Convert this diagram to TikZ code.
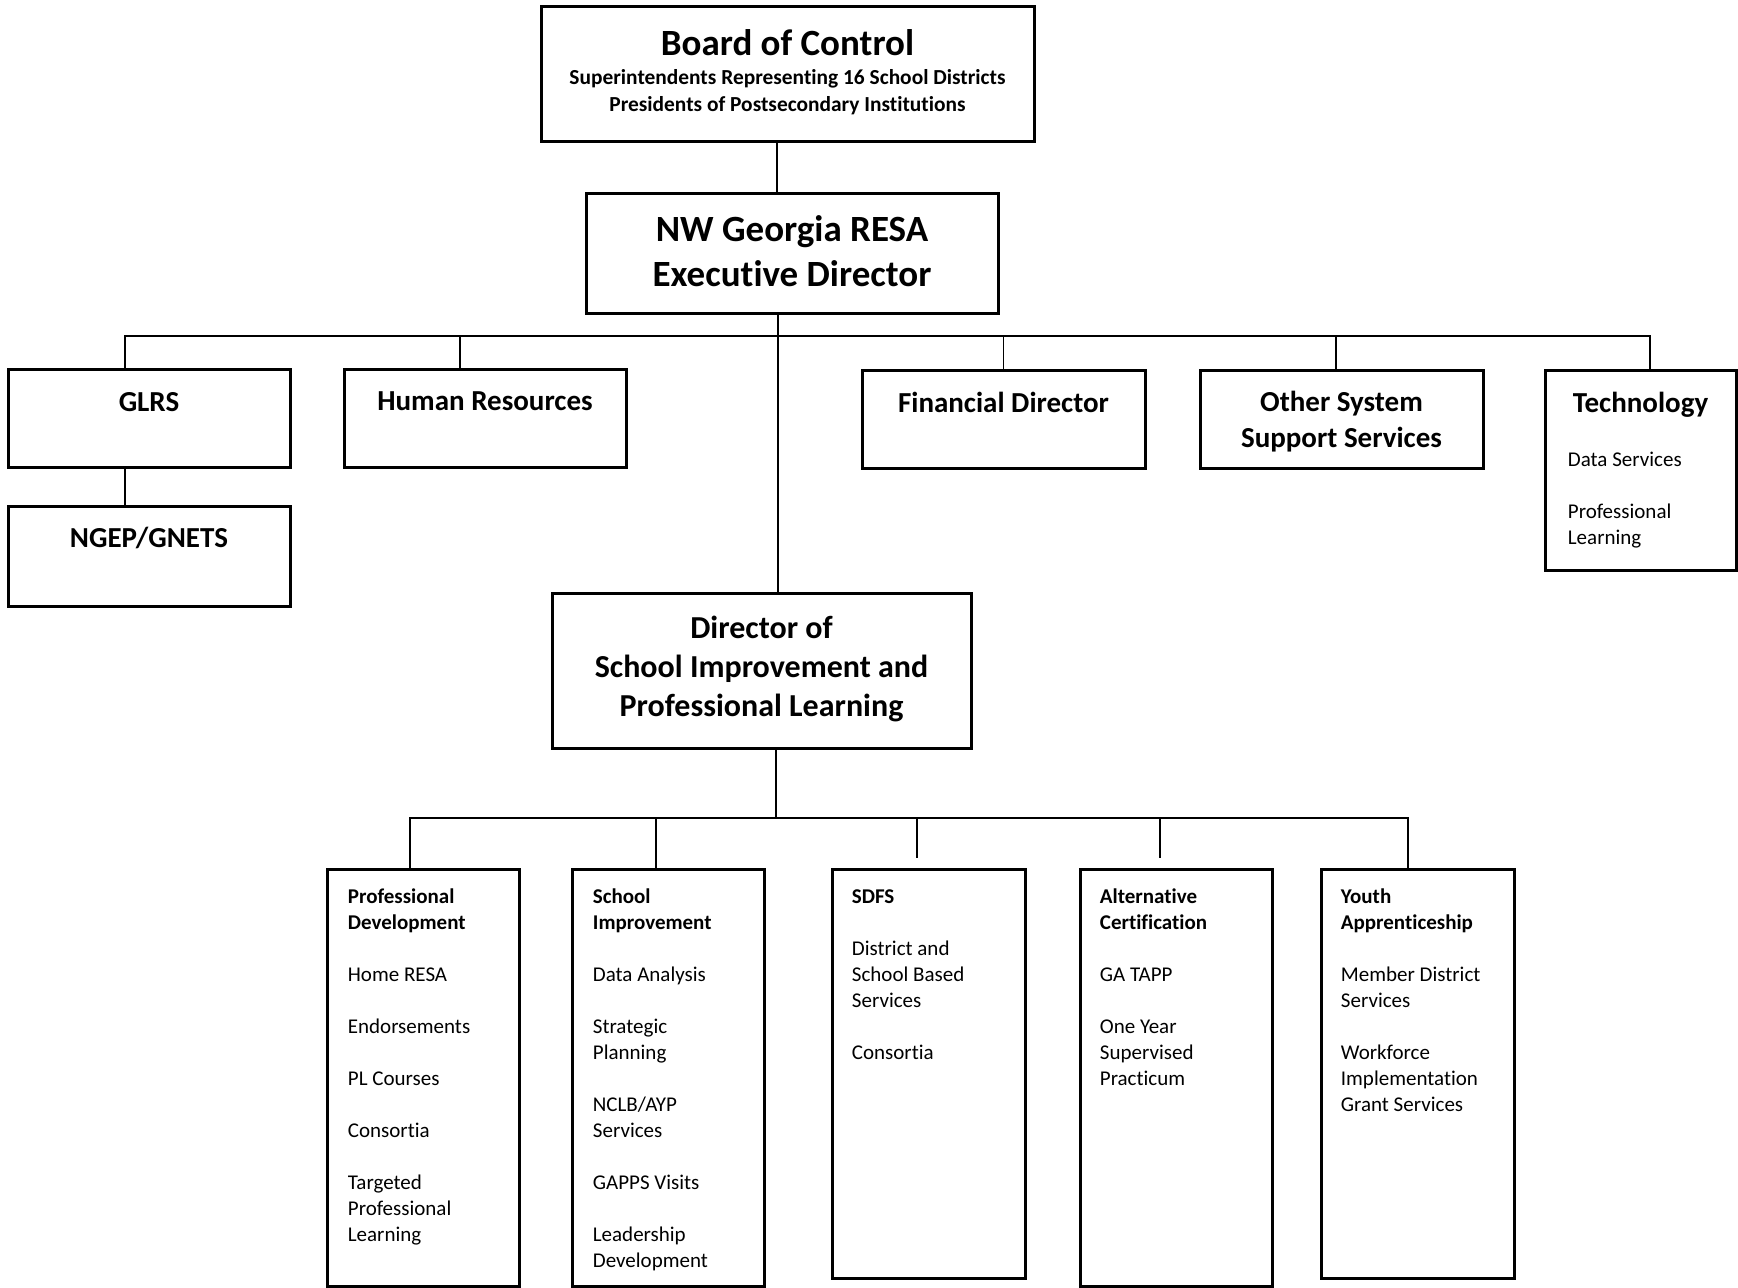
\documentclass[tikz,border=0pt]{standalone}
\usepackage{fontspec}
\setmainfont{Carlito}[Ligatures=NoCommon]

\begin{document}
\begin{tikzpicture}[x=0.5pt, y=-0.5pt,
      box/.style={draw, line width=1.5pt, inner sep=0pt},
      ttl/.style={font=\fontsize{14.5}{18}\selectfont\bfseries,
                  inner sep=0pt, anchor=base},
      lst/.style={font=\fontsize{10.5}{13}\selectfont, align=left,
                  inner sep=0pt, anchor=north west},
      conn/.style={line width=0.8pt}
  ]
    \useasboundingbox (0,0) rectangle (1738,1287);

    % top of the chart
    \node[box, minimum width=246.5pt, minimum height=67.5pt] (board) at (787.5,73.5) {};
    \node[font=\fontsize{18.5}{22}\selectfont\bfseries, inner sep=0pt, anchor=base]
      (boardt) at ([yshift=-25.4pt]board.north) {Board of Control};
    \node[font=\fontsize{10.7}{13.5}\selectfont\bfseries, align=center, inner sep=0pt, anchor=north]
      (boards) at ([yshift=-32.2pt]board.north)
      {Superintendents Representing 16 School Districts\\Presidents of Postsecondary Institutions};

    \node[box, minimum width=206pt, minimum height=60pt] (exec) at (792,253) {};
    \node[font=\fontsize{18.5}{22.5}\selectfont\bfseries, align=center, inner sep=0pt, anchor=north]
      (exect) at ([yshift=-11.6pt]exec.north) {NW Georgia RESA\\Executive Director};

    % second row
    \node[box, minimum width=141pt, minimum height=49pt] (glrs) at (149,418) {};
    \node[ttl] (glrst) at ([yshift=-22pt]glrs.north) {GLRS};
    \node[box, minimum width=141pt, minimum height=50pt] (ngep) at (149,556) {};
    \node[ttl] (ngept) at ([yshift=-21.3pt]ngep.north) {NGEP/GNETS};
    \node[box, minimum width=141pt, minimum height=49pt] (hr) at (485,418) {};
    \node[ttl] (hrt) at ([yshift=-21.7pt]hr.north) {Human Resources};
    \node[box, minimum width=141.5pt, minimum height=49pt] (fin) at (1003.5,419) {};
    \node[ttl] (fint) at ([yshift=-22pt]fin.north) {Financial Director};
    \node[box, minimum width=141.5pt, minimum height=49pt] (oss) at (1341.5,419) {};
    \node[ttl, align=center, anchor=north] (osst) at ([yshift=-11pt]oss.north)
      {Other System\\Support Services};
    \node[box, minimum width=95.5pt, minimum height=100pt] (tech) at (1640.5,470) {};
    \node[ttl] (techt) at ([yshift=-22pt]tech.north) {Technology};
    \node[lst] (techl) at ([shift={(12pt,-41.4pt)}]tech.north west)
      {Data Services\\[13.2pt]Professional\\Learning};

    \node[box, minimum width=209.5pt, minimum height=77.5pt] (dir) at (761.5,670.5) {};
    \node[font=\fontsize{16}{19.5}\selectfont\bfseries, align=center, inner sep=0pt, anchor=north]
      (dirt) at ([yshift=-11.9pt]dir.north)
      {Director of\\School Improvement and\\Professional Learning};

    % bottom row
    \node[box, minimum width=96pt, minimum height=208.5pt] (pd) at (423,1077.5) {};
    \node[lst] (pdt) at ([shift={(11pt,-10.2pt)}]pd.north west)
      {\textbf{Professional}\\\textbf{Development}\\[13pt]Home RESA\\[13pt]Endorsements\\[13pt]%
       PL Courses\\[13pt]Consortia\\[13pt]Targeted\\Professional\\Learning};
    \node[box, minimum width=96pt, minimum height=208.5pt] (si) at (668,1077.5) {};
    \node[lst] (sit) at ([shift={(11pt,-10.2pt)}]si.north west)
      {\textbf{School}\\\textbf{Improvement}\\[13pt]Data Analysis\\[13pt]Strategic\\Planning\\[13pt]%
       NCLB/AYP\\Services\\[13pt]GAPPS Visits\\[13pt]Leadership\\Development};
    \node[box, minimum width=96.5pt, minimum height=204.5pt] (sdfs) at (928.5,1073.5) {};
    \node[lst] (sdfst) at ([shift={(10.5pt,-10.7pt)}]sdfs.north west)
      {\textbf{SDFS}\\[13pt]District and\\School Based\\Services\\[13pt]Consortia};
    \node[box, minimum width=96pt, minimum height=208.5pt] (ac) at (1176,1077.5) {};
    \node[lst] (act) at ([shift={(10.5pt,-10.2pt)}]ac.north west)
      {\textbf{Alternative}\\\textbf{Certification}\\[13pt]GA TAPP\\[13pt]One Year\\Supervised\\Practicum};
    \node[box, minimum width=96.5pt, minimum height=204.5pt] (ya) at (1417.5,1073.5) {};
    \node[lst] (yat) at ([shift={(10.5pt,-10.2pt)}]ya.north west)
      {\textbf{Youth}\\\textbf{Apprenticeship}\\[13pt]Member District\\Services\\[13pt]%
       Workforce\\Implementation\\Grant Services};

    % connectors
    \coordinate (bus) at (778,336);
    \coordinate (sub) at (776,818);
    \draw[conn] ([xshift=-5.25pt]board.south) -- ([xshift=-7.5pt]exec.north);
    \draw[conn] ([xshift=-7pt]exec.south) -- ([xshift=8.25pt]dir.north);
    \draw[conn] ([xshift=-12pt]glrs.north) |- (bus) -| ([xshift=4.75pt]tech.north);
    \draw[conn] ([xshift=-12.5pt]hr.north) -- ([xshift=-12.5pt]hr.north |- bus);
    \draw[conn] (fin.north) -- (fin.north |- bus);
    \draw[conn] ([xshift=-2.75pt]oss.north) -- ([xshift=-2.75pt]oss.north |- bus);
    \draw[conn] ([xshift=-12pt]glrs.south) -- ([xshift=-12pt]ngep.north);
    \draw[conn] ([xshift=7.25pt]dir.south) -- (sub);
    \draw[conn] ([xshift=-6.5pt]pd.north) |- (sub) -| ([xshift=-4.75pt]ya.north);
    \draw[conn] ([xshift=-6pt]si.north) -- ([xshift=-6pt]si.north |- sub);
    \draw[conn] ([shift={(-5.75pt,5pt)}]sdfs.north) -- ([xshift=-5.75pt]sdfs.north |- sub);
    \draw[conn] ([shift={(-8pt,5pt)}]ac.north) -- ([xshift=-8pt]ac.north |- sub);
  \end{tikzpicture}
\end{document}
